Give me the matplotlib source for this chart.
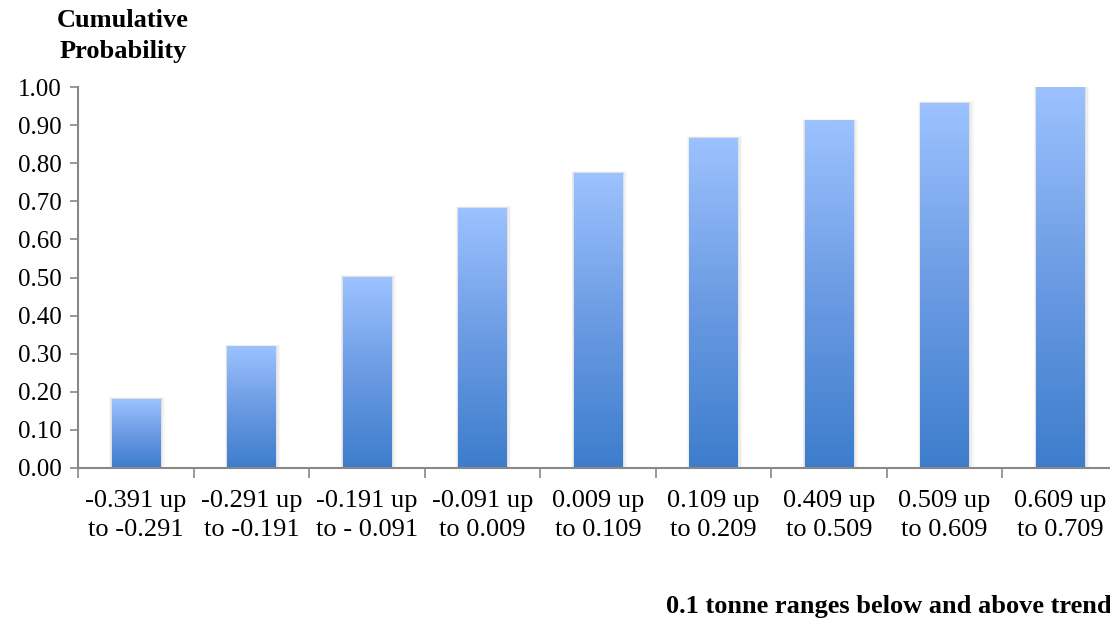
import matplotlib.pyplot as plt
import numpy as np
from matplotlib.colors import LinearSegmentedColormap
from matplotlib.patches import Rectangle

ranges = ['-0.391 up\nto -0.291', '-0.291 up\nto -0.191', '-0.191 up\nto - 0.091',
          '-0.091 up\nto 0.009', '0.009 up\nto 0.109', '0.109 up\nto 0.209',
          '0.409 up\nto 0.509', '0.509 up\nto 0.609', '0.609 up\nto 0.709']
cum_prob = [0.181, 0.318, 0.501, 0.682, 0.774, 0.866, 0.911, 0.958, 1.00]

plt.rcParams['font.family'] = ['Liberation Serif', 'DejaVu Serif']

fig = plt.figure(figsize=(11.1, 6.2), dpi=100)
ax = fig.add_axes([78 / 1110, 152 / 620, 1040 / 1110, 381 / 620])

# bar fill runs light at the top to darker blue at the bottom
cmap = LinearSegmentedColormap.from_list('bars', ['#3d7dcc', '#6b9be3', '#9cc2ff'])
grad = np.linspace(0, 1, 256).reshape(-1, 1)
width = 0.42

for i, v in enumerate(cum_prob):
    x0 = i - width / 2
    # soft drop shadow
    for k, a in enumerate([0.05, 0.04, 0.03]):
        d = 0.012 * (k + 1)
        ax.add_patch(Rectangle((x0 - d * 0.5, 0), width + 1.6 * d, v + d * 0.15,
                               color='black', alpha=a, lw=0, zorder=1))
    ax.imshow(grad, cmap=cmap, origin='lower', aspect='auto',
              extent=[x0, x0 + width, 0, v], zorder=2)

ax.set_xlim(-0.5, len(cum_prob) - 0.5)
ax.set_ylim(0, 1.0)
ax.set_yticks(np.arange(0, 1.01, 0.1))
ax.set_yticklabels([f'{t:.2f}' for t in np.arange(0, 1.01, 0.1)], fontsize=18)
ax.set_xticks(range(len(ranges)))
ax.set_xticklabels(ranges, fontsize=19, linespacing=1.4)
ax.set_xticks(np.arange(-0.5, len(ranges), 1), minor=True)
ax.tick_params(axis='x', which='major', length=0, pad=16)
ax.tick_params(axis='x', which='minor', length=7, color='#888888', width=1.2)
ax.tick_params(axis='y', length=6, color='#888888', width=1.2, pad=6)

for s in ['top', 'right']:
    ax.spines[s].set_visible(False)
for s in ['left', 'bottom']:
    ax.spines[s].set_color('#888888')
    ax.spines[s].set_linewidth(1.5)

fig.text(123 / 1110, 1 - 36 / 620, 'Cumulative\nProbability', ha='center', va='center',
         fontsize=19, fontweight='bold', linespacing=1.4)
fig.text(666 / 1110, 1 - 606 / 620, '0.1 tonne ranges below and above trend',
         ha='left', va='center', fontsize=19, fontweight='bold')

fig.savefig('out.png', dpi=100)
